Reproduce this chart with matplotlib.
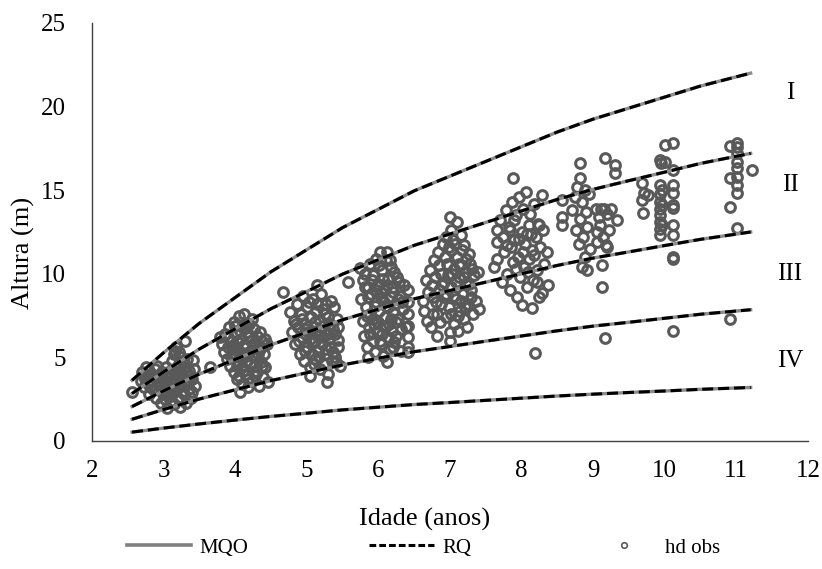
import numpy as np
import matplotlib
matplotlib.use('Agg')
import matplotlib.pyplot as plt
from matplotlib.lines import Line2D

plt.rcParams['font.family'] = ['Liberation Serif', 'DejaVu Serif']

# site index curves (same for MQO and RQ)
ages = [2.56, 3, 3.5, 4, 4.5, 5, 5.5, 6, 6.5, 7, 7.5, 8, 8.5, 9, 9.5, 10, 10.5, 11.2]
curve_I = [3.63, 5.28, 7.04, 8.58, 10.12, 11.44, 12.76, 13.86, 14.96, 15.84, 16.72, 17.6, 18.48, 19.25, 19.91, 20.57, 21.23, 22.0]
curve_II = [2.84, 4.13, 5.50, 6.71, 7.91, 8.94, 9.98, 10.84, 11.70, 12.38, 13.07, 13.76, 14.45, 15.05, 15.57, 16.08, 16.60, 17.2]
curve_III = [2.06, 3.0, 4.0, 4.88, 5.75, 6.5, 7.25, 7.88, 8.5, 9.0, 9.5, 10.0, 10.5, 10.94, 11.31, 11.69, 12.06, 12.5]
curve_IV = [1.30, 1.88, 2.51, 3.06, 3.61, 4.08, 4.55, 4.95, 5.34, 5.65, 5.97, 6.28, 6.59, 6.87, 7.10, 7.34, 7.58, 7.85]
curve_V = [0.53, 0.77, 1.02, 1.25, 1.47, 1.66, 1.86, 2.02, 2.18, 2.30, 2.43, 2.56, 2.69, 2.80, 2.90, 2.99, 3.09, 3.2]
curves = [curve_I, curve_II, curve_III, curve_IV, curve_V]

class_labels = ['I', 'II', 'III', 'IV']
class_y = [20.8, 15.3, 10.0, 4.8]

# observed dominant heights (age, hd), one list per measurement age
obs_3 = [(2.56, 2.9), (2.68, 3.6), (2.70, 4.1), (2.72, 3.2), (2.75, 3.9), (2.76, 4.4), (2.78, 3.4), (2.80, 2.8),
         (2.82, 4.0), (2.84, 3.6), (2.85, 3.1), (2.88, 4.3), (2.90, 2.6), (2.92, 3.8), (2.94, 3.3), (2.96, 2.3),
         (2.98, 4.1), (3.00, 3.0), (3.00, 3.6), (3.02, 2.5), (3.04, 4.4), (3.05, 2.0), (3.07, 3.3), (3.08, 3.9),
         (3.10, 2.7), (3.12, 4.8), (3.13, 3.5), (3.14, 2.2), (3.15, 5.2), (3.16, 4.2), (3.17, 3.0), (3.18, 5.6),
         (3.20, 3.8), (3.21, 2.5), (3.22, 4.6), (3.23, 2.05), (3.24, 3.3), (3.25, 5.0), (3.26, 4.0), (3.28, 2.8),
         (3.28, 4.4), (3.30, 6.0), (3.30, 3.6), (3.32, 2.3), (3.33, 4.9), (3.35, 3.1), (3.36, 4.2), (3.38, 2.6),
         (3.40, 3.7), (3.41, 4.85), (3.42, 4.3), (3.44, 3.3), (3.65, 4.4),
         (2.74, 3.7), (2.79, 4.2), (2.83, 3.3), (2.87, 3.8), (2.91, 4.5), (2.95, 3.6), (2.99, 2.8), (3.03, 3.8),
         (3.06, 4.1), (3.09, 3.1), (3.11, 2.4), (3.14, 4.0), (3.19, 3.2), (3.19, 4.4), (3.23, 3.6), (3.27, 3.0),
         (3.27, 4.7), (3.31, 4.1), (3.34, 3.5), (3.37, 3.9), (3.39, 2.9), (3.16, 5.4), (3.22, 5.3), (3.06, 2.8)]
obs_4 = [(3.79, 6.2), (3.82, 5.8), (3.85, 5.3), (3.86, 6.4), (3.88, 4.9), (3.90, 5.6), (3.92, 6.8), (3.93, 4.5),
         (3.95, 6.0), (3.96, 5.2), (3.98, 7.1), (3.99, 4.1), (4.00, 5.7), (4.01, 6.4), (4.02, 3.7), (4.03, 4.8),
         (4.05, 7.5), (4.06, 5.4), (4.07, 2.95), (4.08, 6.1), (4.09, 4.4), (4.10, 3.4), (4.11, 6.8), (4.12, 5.0),
         (4.13, 7.6), (4.14, 5.8), (4.15, 4.0), (4.16, 6.5), (4.18, 3.2), (4.19, 5.3), (4.20, 7.0), (4.21, 4.6),
         (4.22, 6.0), (4.24, 3.6), (4.25, 5.6), (4.26, 6.7), (4.28, 4.2), (4.29, 5.0), (4.30, 4.1), (4.31, 6.3),
         (4.33, 3.3), (4.34, 5.5), (4.36, 4.7), (4.37, 6.0), (4.39, 3.8), (4.40, 5.2), (4.42, 4.4), (4.44, 5.8),
         (4.46, 3.5), (4.67, 8.9),
         (3.90, 6.2), (3.94, 5.0), (3.97, 5.5), (4.00, 6.9), (4.02, 4.5), (4.04, 5.9), (4.07, 6.6), (4.09, 5.1),
         (4.11, 4.2), (4.13, 5.6), (4.15, 6.9), (4.17, 4.8), (4.19, 6.2), (4.23, 5.1), (4.24, 7.3), (4.27, 5.9),
         (4.28, 3.9), (4.32, 5.2), (4.35, 6.5), (4.38, 4.5), (4.41, 6.1), (4.05, 3.9), (4.18, 3.7), (4.26, 4.5)]
obs_5 = [(4.77, 7.7), (4.79, 6.5), (4.82, 7.2), (4.84, 5.8), (4.86, 8.2), (4.88, 6.8), (4.90, 5.2), (4.92, 7.6),
         (4.94, 6.2), (4.95, 8.7), (4.96, 4.8), (4.98, 7.0), (5.00, 5.6), (5.01, 8.0), (5.02, 6.5), (5.04, 4.4),
         (5.05, 3.9), (5.06, 7.4), (5.08, 5.9), (5.09, 8.5), (5.10, 6.8), (5.12, 4.9), (5.13, 7.8), (5.14, 9.3),
         (5.15, 5.4), (5.16, 6.3), (5.18, 7.2), (5.19, 4.3), (5.20, 8.8), (5.21, 5.8), (5.22, 6.9), (5.24, 4.6),
         (5.25, 7.6), (5.26, 5.2), (5.27, 8.2), (5.28, 3.55), (5.29, 6.4), (5.30, 4.0), (5.32, 7.0), (5.33, 5.6),
         (5.35, 4.8), (5.36, 6.7), (5.38, 8.0), (5.40, 5.0), (5.42, 7.3), (5.44, 6.05), (5.44, 5.6), (5.46, 4.5),
         (5.58, 9.5),
         (4.85, 7.0), (4.89, 6.0), (4.93, 7.3), (4.97, 5.4), (4.99, 6.7), (5.03, 8.3), (5.04, 6.1), (5.07, 5.2),
         (5.11, 7.1), (5.12, 6.0), (5.14, 8.2), (5.17, 5.0), (5.19, 6.6), (5.23, 7.9), (5.23, 6.2), (5.27, 5.5),
         (5.30, 7.4), (5.31, 6.1), (5.34, 8.4), (5.37, 5.3), (5.39, 6.4), (5.41, 4.7), (5.43, 6.8), (5.10, 4.6)]
obs_6 = [(5.74, 10.35), (5.76, 8.5), (5.78, 9.6), (5.79, 7.2), (5.80, 6.3), (5.82, 10.0), (5.83, 8.0), (5.84, 5.6),
         (5.85, 9.2), (5.86, 5.0), (5.87, 6.8), (5.88, 10.6), (5.89, 7.6), (5.90, 8.8), (5.92, 6.0), (5.93, 9.9),
         (5.94, 7.0), (5.95, 5.3), (5.96, 8.3), (5.97, 10.9), (5.98, 6.5), (6.00, 9.4), (6.01, 7.8), (6.02, 11.3),
         (6.03, 5.8), (6.04, 8.6), (6.05, 10.2), (6.06, 6.9), (6.07, 5.1), (6.08, 9.0), (6.09, 7.4), (6.10, 10.8),
         (6.11, 8.1), (6.12, 4.7), (6.12, 11.3), (6.13, 6.2), (6.14, 9.7), (6.15, 7.0), (6.16, 5.5), (6.17, 8.6),
         (6.18, 10.4), (6.19, 6.6), (6.20, 9.2), (6.21, 7.7), (6.22, 5.9), (6.23, 8.2), (6.25, 6.3), (6.26, 9.8),
         (6.28, 7.3), (6.30, 8.7), (6.32, 5.4), (6.34, 7.9), (6.36, 9.3), (6.38, 6.8), (6.41, 9.0), (6.41, 8.3),
         (6.41, 7.6), (6.41, 6.9), (6.41, 6.2), (6.41, 5.6), (6.42, 5.3),
         (5.81, 9.2), (5.84, 7.5), (5.86, 8.6), (5.88, 6.4), (5.91, 9.6), (5.93, 7.3), (5.95, 8.1), (5.97, 9.0),
         (5.99, 7.1), (6.01, 10.5), (6.03, 8.9), (6.05, 6.4), (6.06, 9.7), (6.08, 8.3), (6.10, 6.9), (6.12, 9.3),
         (6.14, 8.0), (6.16, 10.8), (6.18, 7.3), (6.20, 8.9), (6.22, 10.1), (6.24, 7.1), (6.27, 8.5), (6.29, 9.5),
         (6.31, 6.7), (6.33, 8.3), (6.02, 6.0), (6.20, 5.6)]
obs_7 = [(6.62, 8.4), (6.64, 7.8), (6.66, 9.6), (6.68, 7.2), (6.70, 8.9), (6.72, 10.2), (6.74, 6.8), (6.75, 9.3),
         (6.77, 7.6), (6.78, 10.8), (6.80, 8.3), (6.82, 6.3), (6.83, 11.3), (6.85, 9.0), (6.86, 7.1), (6.88, 10.0),
         (6.90, 11.8), (6.91, 8.6), (6.92, 9.5), (6.94, 12.2), (6.95, 7.4), (6.96, 10.6), (6.98, 8.0), (7.00, 13.4),
         (7.00, 6.5), (7.00, 6.0), (7.01, 11.4), (7.02, 9.2), (7.04, 12.0), (7.05, 7.0), (7.06, 10.3), (7.08, 8.5),
         (7.10, 13.1), (7.10, 11.0), (7.11, 6.6), (7.12, 9.8), (7.14, 7.8), (7.15, 12.3), (7.16, 10.5), (7.18, 8.8),
         (7.19, 11.7), (7.20, 7.3), (7.22, 9.4), (7.23, 10.9), (7.24, 6.8), (7.25, 8.2), (7.27, 11.2), (7.28, 10.6),
         (7.30, 9.0), (7.32, 7.6), (7.34, 9.9), (7.36, 8.4), (7.39, 10.1), (7.40, 7.9),
         (6.76, 8.6), (6.79, 9.8), (6.82, 7.6), (6.84, 10.5), (6.87, 8.2), (6.89, 9.3), (6.93, 11.0), (6.95, 8.8),
         (6.97, 9.9), (6.99, 11.6), (7.01, 7.6), (7.03, 10.0), (7.05, 8.7), (7.07, 11.8), (7.09, 9.5), (7.11, 7.5),
         (7.13, 10.6), (7.15, 8.4), (7.17, 11.4), (7.19, 9.8), (7.21, 8.0), (7.23, 10.1), (7.26, 9.4), (7.29, 8.6),
         (7.31, 10.3), (7.02, 12.6)]
obs_8 = [(7.62, 10.4), (7.66, 12.6), (7.66, 11.9), (7.66, 10.9), (7.70, 13.2), (7.72, 9.5), (7.74, 12.2), (7.76, 11.3),
         (7.78, 13.8), (7.80, 10.0), (7.82, 12.8), (7.84, 9.0), (7.85, 11.6), (7.86, 14.3), (7.88, 15.7), (7.88, 10.7),
         (7.90, 12.0), (7.92, 13.5), (7.93, 8.6), (7.95, 11.0), (7.96, 14.6), (7.98, 9.8), (8.00, 12.5), (8.00, 8.15),
         (8.02, 13.9), (8.03, 10.4), (8.05, 11.8), (8.06, 14.9), (8.08, 9.2), (8.10, 12.9), (8.11, 10.9), (8.12, 13.6),
         (8.14, 7.95), (8.14, 11.4), (8.16, 9.6), (8.18, 14.2), (8.19, 5.27), (8.20, 12.2), (8.21, 10.2), (8.23, 13.0),
         (8.25, 8.6), (8.26, 11.6), (8.28, 14.7), (8.28, 8.85), (8.30, 12.6), (8.32, 10.6), (8.35, 11.3), (8.37, 9.3),
         (8.56, 14.4), (8.56, 13.4), (8.56, 12.9),
         (7.80, 11.7), (7.84, 12.6), (7.89, 13.2), (7.92, 10.3), (7.97, 12.1), (8.02, 11.3), (8.07, 12.4), (8.09, 10.1),
         (8.13, 12.4), (8.17, 11.1), (8.22, 9.5), (8.24, 12.9)]
obs_9 = [(8.70, 13.8), (8.74, 14.6), (8.76, 12.6), (8.78, 15.2), (8.80, 11.8), (8.82, 16.6), (8.82, 15.75), (8.82, 13.3),
         (8.84, 10.4), (8.85, 14.3), (8.86, 12.2), (8.88, 11.0), (8.88, 15.0), (8.90, 13.7), (8.91, 10.25), (8.92, 12.8),
         (8.94, 14.8), (8.95, 11.5), (9.04, 13.9), (9.05, 12.5), (9.06, 11.9), (9.08, 13.4), (9.10, 12.9), (9.11, 13.9),
         (9.12, 10.5), (9.12, 9.2), (9.14, 12.2), (9.15, 13.9), (9.16, 16.9), (9.16, 6.15), (9.18, 11.7), (9.20, 13.6),
         (9.20, 11.6), (9.22, 12.6), (9.25, 13.9), (9.30, 16.5), (9.30, 16.05), (9.33, 13.2)]
obs_10 = [(9.68, 15.45), (9.71, 14.85), (9.76, 14.7), (9.68, 14.4), (9.69, 13.65), (9.93, 16.8), (9.95, 16.6), (10.0, 16.7),
          (10.0, 17.7), (10.11, 17.8), (10.11, 16.2), (9.93, 15.3), (9.93, 14.8), (9.93, 14.3), (9.93, 13.9), (9.93, 13.5),
          (9.93, 13.1), (9.93, 12.7), (9.93, 12.3), (9.96, 15.0), (9.96, 14.1), (9.96, 12.9), (10.11, 15.3), (10.11, 14.85),
          (10.11, 14.1), (10.11, 13.95), (10.11, 12.9), (10.11, 12.3), (10.11, 11.0), (10.11, 10.9), (10.11, 6.6)]
obs_11 = [(10.91, 17.65), (11.01, 17.8), (11.01, 17.6), (11.01, 17.25), (11.01, 16.7), (11.01, 16.35), (11.01, 15.8),
          (11.01, 15.3), (11.01, 14.85), (10.91, 15.75), (11.22, 16.2), (10.91, 14.0), (11.01, 12.75), (10.91, 7.3)]

obs = obs_3 + obs_4 + obs_5 + obs_6 + obs_7 + obs_8 + obs_9 + obs_10 + obs_11
obs_x = [p[0] for p in obs]
obs_y = [p[1] for p in obs]

gray = '#595959'

fig = plt.figure(figsize=(8.22, 5.69), dpi=100)
ax = fig.add_axes([0.1119, 0.2250, 0.871, 0.7346])

ax.plot(obs_x, obs_y, 'o', mfc='none', mec=gray, ms=7.0, mew=2.2, zorder=2)
for c in curves:
    ax.plot(ages, c, '-', color='#8c8c8c', lw=2.4, zorder=3)
    ax.plot(ages, c, '--', color='black', lw=2.2, dashes=(3.6, 1.6), zorder=4)

for lab, yy in zip(class_labels, class_y):
    ax.text(11.75, yy, lab, fontsize=18, ha='center', va='center')

ax.set_xlim(2, 12)
ax.set_ylim(0, 25)
ax.set_xticks(range(2, 13))
ax.set_yticks(range(0, 26, 5))
ax.tick_params(length=0, labelsize=18)
ax.tick_params(axis='y', pad=19)
ax.tick_params(axis='x', pad=14)
for s in ['top', 'right']:
    ax.spines[s].set_visible(False)
for s in ['left', 'bottom']:
    ax.spines[s].set_color('#404040')
    ax.spines[s].set_linewidth(1.0)

ax.set_xlabel('Idade (anos)', fontsize=19)
ax.set_ylabel('Altura (m)', fontsize=19)
ax.xaxis.set_label_coords(0.465, -0.16)
ax.yaxis.set_label_coords(-0.08, 0.45)

handles = [Line2D([], [], color='#808080', lw=2.6),
           Line2D([], [], color='black', lw=2.2, ls='--', dashes=(2.2, 1.0)),
           Line2D([], [], ls='none', marker='o', mfc='none', mec=gray, ms=4, mew=1.2)]
fig.legend(handles, ['MQO', 'RQ', 'hd obs'], loc='center', bbox_to_anchor=(0.515, 0.037),
           ncol=3, frameon=False, fontsize=15, handlelength=3.1, columnspacing=5.8, handletextpad=0.4)

fig.savefig('out.png', dpi=100)
